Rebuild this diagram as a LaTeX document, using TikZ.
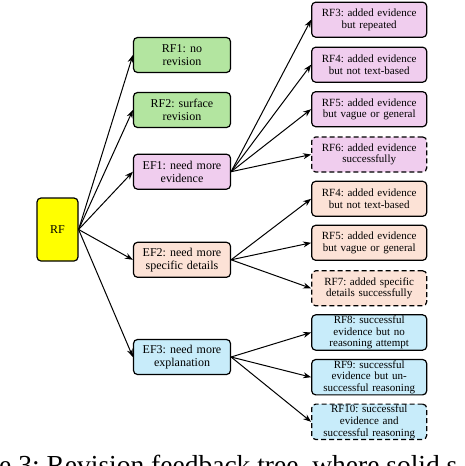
\documentclass[tikz,border=0pt]{standalone}
\usepackage{fontspec}
\setmainfont{Liberation Serif}
\usetikzlibrary{arrows.meta}
\frenchspacing
\definecolor{cgreen}{HTML}{B3E5A0}
\definecolor{cpink}{HTML}{F0CDEE}
\definecolor{cpeach}{HTML}{FCE2D6}
\definecolor{cblue}{HTML}{C8ECFA}
\definecolor{cyel}{HTML}{FFFF00}
\tikzset{
  box/.style={draw=black, line width=1.2pt, rounded corners=4pt, align=center, inner sep=1pt},
  lbox/.style={box, minimum width=97pt, minimum height=35pt, text width=95pt, font=\fontsize{12}{13}\selectfont},
  rbox/.style={box, minimum width=115pt, minimum height=35pt, text width=113pt, font=\fontsize{11}{11.6}\selectfont},
  dbox/.style={dash pattern=on 5pt off 3pt},
  arr/.style={-{Stealth[length=8pt,width=6pt]}, line width=1pt},
}
\begin{document}
\begin{tikzpicture}[x=1pt,y=1pt]
\useasboundingbox (0,0) rectangle (464,-466);
% root
\node[box, fill=cyel, minimum width=41pt, minimum height=63pt, font=\fontsize{12}{13}\selectfont] (rf) at (57.5,-229.5) {RF};
% left column
\node[lbox, fill=cgreen] (rf1) at (182,-55) {RF1: no\\revision};
\node[lbox, fill=cgreen] (rf2) at (182,-110) {RF2: surface\\revision};
\node[lbox, fill=cpink] (ef1) at (182,-171.7) {EF1: need more\\evidence};
\node[lbox, fill=cpeach] (ef2) at (182,-259.8) {EF2: need more\\specific details};
\node[lbox, fill=cblue] (ef3) at (182,-357) {EF3: need more\\explanation};
% right column
\node[rbox, fill=cpink] (rf3) at (369.2,-19.7) {RF3: added evidence\\but repeated};
\node[rbox, fill=cpink] (rf4) at (369.2,-64.7) {RF4: added evidence\\but not text-based};
\node[rbox, fill=cpink] (rf5) at (369.2,-109.2) {RF5: added evidence\\but vague or general};
\node[rbox, dbox, fill=cpink] (rf6) at (369.2,-154.5) {RF6: added evidence\\successfully};
\node[rbox, fill=cpeach] (rf4b) at (369.2,-198.8) {RF4: added evidence\\but not text-based};
\node[rbox, fill=cpeach] (rf5b) at (369.2,-242.8) {RF5: added evidence\\but vague or general};
\node[rbox, dbox, fill=cpeach] (rf7) at (369.2,-288.3) {RF7: added specific\\details successfully};
\node[rbox, fill=cblue] (rf8) at (369.2,-332.5) {RF8: successful\\evidence but no\\reasoning attempt};
\node[rbox, fill=cblue] (rf9) at (369.2,-377.2) {RF9: successful\\evidence but un-\\successful reasoning};
\node[rbox, dbox, fill=cblue] (rf10) at (369.2,-421.8) {RF10: successful\\evidence and\\successful reasoning};
% connectors
\foreach \t in {rf1,rf2,ef1,ef2,ef3} \draw[arr] (rf.east) -- (\t.west);
\foreach \t in {rf3,rf4,rf5,rf6} \draw[arr] (ef1.east) -- (\t.west);
\foreach \t in {rf4b,rf5b,rf7} \draw[arr] (ef2.east) -- (\t.west);
\foreach \t in {rf8,rf9,rf10} \draw[arr] (ef3.east) -- (\t.west);
% caption (clipped at the bottom edge, as in the reference)
\node[anchor=base west, inner sep=0pt, font=\fontsize{27.5}{30}\selectfont] (cap) at (-1,-474) {e 3: Revision feedback tree, where solid s};
\end{tikzpicture}
\end{document}
